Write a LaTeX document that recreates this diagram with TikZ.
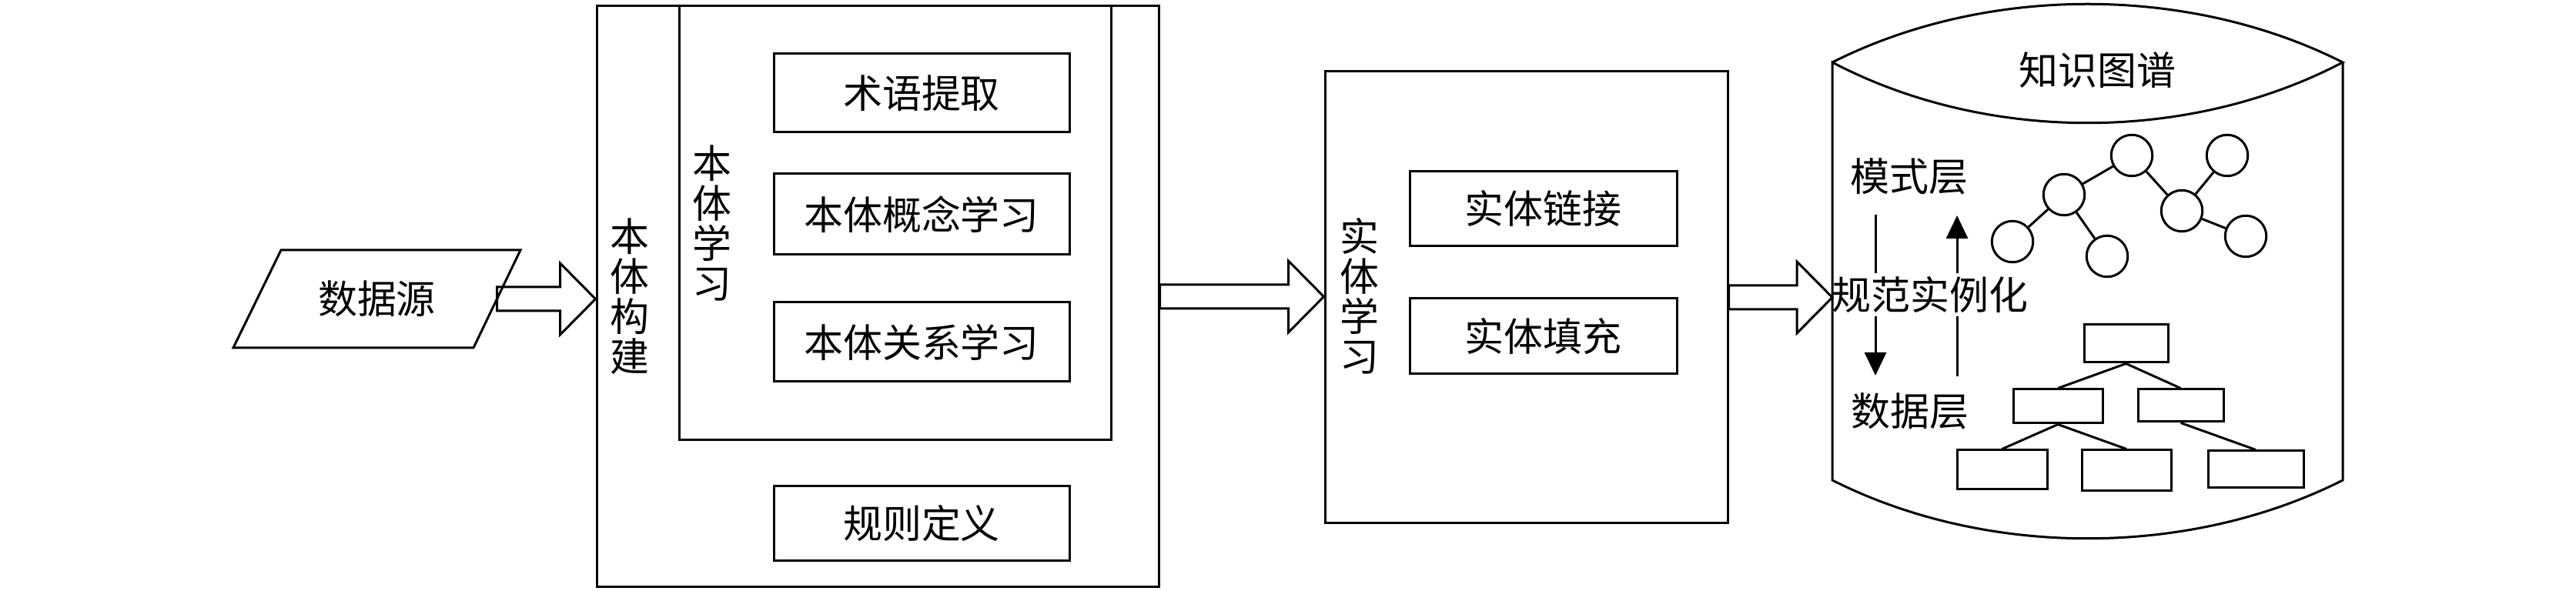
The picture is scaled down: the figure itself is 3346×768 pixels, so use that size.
\documentclass[tikz,border=0pt]{standalone}
\usepackage{fontspec}
\setmainfont{Noto Sans CJK SC}
\usetikzlibrary{arrows.meta,calc}
\newcommand{\blockarrow}[2]{%
  \draw[link] let \p1=(#1), \p2=(#2) in
    (\x1,\y1+1.55mm) -- (\x2-4.6mm,\y1+1.55mm) -- (\x2-4.6mm,\y1+4.65mm)
    -- (\x2,\y1) -- (\x2-4.6mm,\y1-4.65mm) -- (\x2-4.6mm,\y1-1.55mm)
    -- (\x1,\y1-1.55mm) -- cycle;}

\begin{document}
\begin{tikzpicture}[x=0.1mm,y=-0.1mm,
    every node/.style={font=\fontsize{14.5}{14.8}\selectfont},
    box/.style={draw,line width=0.3mm,inner sep=0pt},
    vtext/.style={align=center,inner sep=0pt},
    knot/.style={draw,circle,line width=0.3mm,minimum size=5.35mm,inner sep=0pt},
    leaf/.style={draw,line width=0.3mm,inner sep=0pt},
    link/.style={line width=0.3mm},
    layer/.style={line width=0.3mm,-{Triangle[length=3mm,width=2.8mm]}}]
  \useasboundingbox (0,0) rectangle (3346,768);
  % data source
  \draw[link] (303,452) -- (365,325) -- (676,325) -- (615,452) -- cycle;
  \node (ds) at (489.5,388.5) {数据源};
  \coordinate (dsE) at (645.5,388.5);
  % ontology construction
  \node[box,minimum width=73mm,minimum height=75.5mm] (onto) at (1140,385.5) {};
  \node[box,minimum width=56.1mm,minimum height=56.4mm] (learn) at (1162.5,290) {};
  \node[box,minimum width=38.4mm,minimum height=10.2mm] (term) at (1197,121) {术语提取};
  \node[box,minimum width=38.4mm,minimum height=10.5mm] (concept) at (1197,278.5) {本体概念学习};
  \node[box,minimum width=38.4mm,minimum height=10.3mm] (relation) at (1197,444.5) {本体关系学习};
  \node[box,minimum width=38.4mm,minimum height=9.6mm] (rule) at (1197,680) {规则定义};
  \node[vtext] at (818,385) {本\\体\\构\\建};
  \node[vtext] at (925,290) {本\\体\\学\\习};
  % entity learning
  \node[box,minimum width=52.3mm,minimum height=58.7mm] (entity) at (1982.5,386.5) {};
  \node[box,minimum width=34.7mm,minimum height=9.7mm] (elink) at (2004.5,271.5) {实体链接};
  \node[box,minimum width=34.7mm,minimum height=9.8mm] (efill) at (2004.5,437) {实体填充};
  \node[vtext] at (1766,385) {实\\体\\学\\习};
  % knowledge graph
  \coordinate (kg) at (2380,387);
  \node at (2724,91) {知识图谱};
  \node (schema) at (2480,229) {模式层};
  \node (datal) at (2481,534) {数据层};
  \coordinate (d1) at (2436,279);
  \coordinate (d2) at (2436,488);
  \coordinate (u1) at (2542,489);
  \coordinate (u2) at (2542,280);
  \draw[layer] (d1) -- (d2);
  \draw[layer] (u1) -- (u2);
  \node[fill=white,inner xsep=0pt,inner ysep=0.4mm] (norm) at (2507,383) {规范实例化};
  \draw[link] (2380,81) .. controls (2580,-20) and (2843,-20) .. (3043,81)
    .. controls (2843,186) and (2580,186) .. (2380,81) -- (2380,624)
    .. controls (2580,725) and (2843,725) .. (3043,624) -- (3043,81);
  % schema layer graph
  \node[knot] (k1) at (2614,314) {};
  \node[knot] (k2) at (2681,253) {};
  \node[knot] (k3) at (2737,333) {};
  \node[knot] (k4) at (2769,202) {};
  \node[knot] (k5) at (2834,274) {};
  \node[knot] (k6) at (2893,202) {};
  \node[knot] (k7) at (2917,307) {};
  \foreach \a/\b in {k2/k1,k2/k3,k2/k4,k4/k5,k5/k6,k5/k7}
    \draw[link] (\a) -- (\b);
  % data layer tree
  \node[leaf,minimum width=10.9mm,minimum height=4.9mm] (r1) at (2761.5,446.5) {};
  \node[leaf,minimum width=11.6mm,minimum height=4.4mm] (r2) at (2673,528) {};
  \node[leaf,minimum width=11.1mm,minimum height=4.2mm] (r3) at (2832.5,527) {};
  \node[leaf,minimum width=11.7mm,minimum height=5.1mm] (r4) at (2600.5,610.5) {};
  \node[leaf,minimum width=11.6mm,minimum height=5.3mm] (r5) at (2762,611.5) {};
  \node[leaf,minimum width=12.4mm,minimum height=4.8mm] (r6) at (2930,610) {};
  \foreach \a/\b in {r1/r2,r1/r3,r2/r4,r2/r5,r3/r6}
    \draw[link] (\a.south) -- (\b.north);
  % hollow arrows
  \blockarrow{dsE}{onto.west}
  \blockarrow{onto.east}{entity.west}
  \blockarrow{entity.east}{kg}
\end{tikzpicture}
\end{document}
